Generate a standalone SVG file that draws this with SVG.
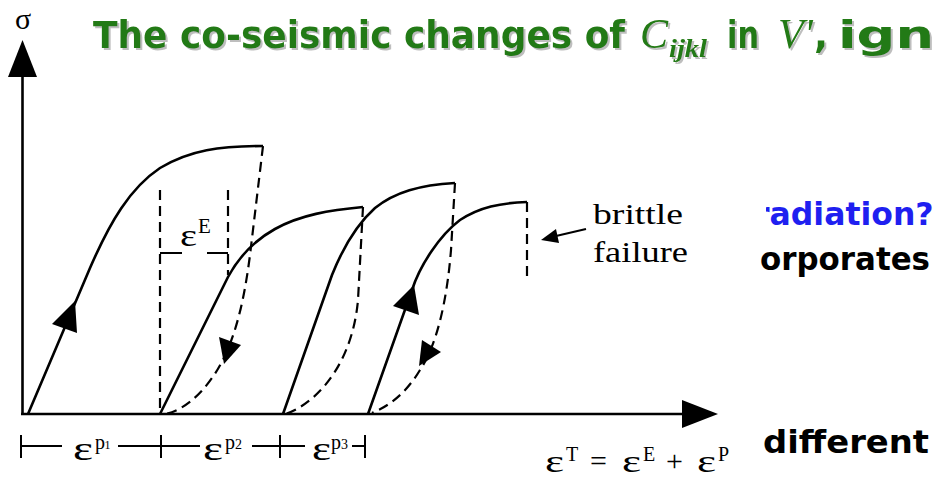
<svg xmlns="http://www.w3.org/2000/svg" width="935" height="482" viewBox="0 0 935 482">
<style>
.ax{stroke:#000;stroke-width:2.6;fill:none}
.sol{stroke:#000;stroke-width:2.6;fill:none;stroke-linejoin:round}
.dsh{stroke:#000;stroke-width:2.2;fill:none;stroke-dasharray:10 6}
.thin{stroke:#000;stroke-width:2;fill:none}
.hd{fill:#000;stroke:none}
.ser{font-family:"Liberation Serif","Times New Roman",serif;fill:#000}
.com{font-family:"Comic Sans MS","DejaVu Sans","Liberation Sans",sans-serif;font-weight:bold}
.ttl{fill:#237a13}
</style>
<defs>
<filter id="sh" x="-5%" y="-20%" width="110%" height="150%">
<feDropShadow dx="2" dy="2" stdDeviation="0.6" flood-color="#888" flood-opacity="0.55"/>
</filter>
<clipPath id="clipR"><rect x="766" y="180" width="169" height="60"/></clipPath>
</defs>
<rect width="935" height="482" fill="#fff"/>

<g id="title" filter="url(#sh)">
<text class="com ttl" x="93" y="48" font-size="37" textLength="532" lengthAdjust="spacingAndGlyphs">The co-seismic changes of</text>
<text class="ttl" x="640" y="48" font-size="42" font-style="italic" font-family="Liberation Serif, serif">C</text>
<text class="ttl" x="669" y="57" font-size="25" font-style="italic" font-weight="bold" font-family="Liberation Serif, serif" textLength="38" lengthAdjust="spacingAndGlyphs">ijkl</text>
<text class="com ttl" x="727" y="48" font-size="37" textLength="32" lengthAdjust="spacingAndGlyphs">in</text>
<text class="ttl" x="778" y="48" font-size="42" font-style="italic" font-family="Liberation Serif, serif">V'</text>
<text class="com ttl" x="814" y="48" font-size="37">,</text>
<text class="com ttl" x="838" y="48" font-size="37" textLength="96" lengthAdjust="spacingAndGlyphs">ign</text>
</g>

<g id="side-text">
<text class="com" x="754" y="225" font-size="31.5" fill="#1f1ff0" clip-path="url(#clipR)">radiation?</text>
<text class="com" x="760" y="270" font-size="32" fill="#000" textLength="170" lengthAdjust="spacingAndGlyphs">orporates</text>
<text class="com" x="763" y="453" font-size="32" fill="#000" textLength="166" lengthAdjust="spacingAndGlyphs">different</text>
</g>

<g id="axes">
<path class="ax" d="M22.5,415 V70"/>
<polygon class="hd" points="22.5,40 8,77 37,77"/>
<text class="ser" x="23" y="29" font-size="30" text-anchor="middle">σ</text>
<path class="ax" d="M21,414 H690"/>
<polygon class="hd" points="718,414 682,400 682,428"/>
</g>

<g id="connectors">
<path class="sol" d="M28,414 L90,268 C110,222 130,188 160,168 C190,150 220,146 263,146"/>
<path class="sol" d="M160,414 L228,277 C240,255 255,240 275,229 C300,215 330,210 363,207"/>
<path class="sol" d="M283,414 L332,275 C342,250 356,225 375,208 C395,192 420,185 455,183"/>
<path class="sol" d="M368,414 L412,290 C420,265 440,235 460,220 C480,207 500,203 527,202"/>
<path class="dsh" d="M263,146 L250,255 C243,310 232,350 212,378 C198,398 182,410 166,414"/>
<path class="dsh" d="M363,207 L358,300 C354,345 335,380 310,400 C300,408 292,412 285,414"/>
<path class="dsh" d="M455,183 L451,250 C447,300 437,345 420,370 C408,390 392,405 372,413"/>
<path class="dsh" d="M527,202 V278"/>
<path class="dsh" d="M160,190 V414"/>
<path class="dsh" d="M228,190 V275"/>
<path class="thin" d="M160,253 H182 M207,253 H228"/>
<polygon class="hd" points="75,301 52,324 77,333"/>
<polygon class="hd" points="219,337 241,345 224,364"/>
<polygon class="hd" points="422,340 441,352 419,366"/>
<polygon class="hd" points="414,285 393,306 419,315"/>
<path class="thin" d="M586,229 L556,236"/>
<polygon class="hd" points="541,240 559,243 556,229"/>
<path class="thin" d="M21,446 H62 M118,446 H200 M252,446 H305 M352,446 H365"/>
<path class="thin" d="M21,435 V458 M161,435 V458 M280,435 V458 M365,435 V458"/>
</g>

<g id="labels">
<text class="ser" x="180" y="246" font-size="32" textLength="17" lengthAdjust="spacingAndGlyphs">ε</text>
<text class="ser" x="198" y="233" font-size="21">E</text>
<text class="ser" x="593" y="224" font-size="29" textLength="90" lengthAdjust="spacingAndGlyphs">brittle</text>
<text class="ser" x="593" y="262" font-size="29" textLength="95" lengthAdjust="spacingAndGlyphs">failure</text>

<text class="ser" x="73" y="460" font-size="34" textLength="20" lengthAdjust="spacingAndGlyphs">ε</text>
<text class="ser" x="95" y="449" font-size="20">p</text>
<text class="ser" x="104.5" y="449" font-size="12">1</text>
<text class="ser" x="203" y="460" font-size="34" textLength="20" lengthAdjust="spacingAndGlyphs">ε</text>
<text class="ser" x="225" y="449" font-size="20">p</text>
<text class="ser" x="235" y="449" font-size="14">2</text>
<text class="ser" x="312" y="460" font-size="34" textLength="19" lengthAdjust="spacingAndGlyphs">ε</text>
<text class="ser" x="331" y="449" font-size="20">p</text>
<text class="ser" x="341" y="449" font-size="14">3</text>

<text class="ser" x="545" y="472" font-size="32" textLength="19" lengthAdjust="spacingAndGlyphs">ε</text>
<text class="ser" x="566" y="461" font-size="20">T</text>
<text class="ser" x="590" y="471" font-size="30">=</text>
<text class="ser" x="622" y="472" font-size="32" textLength="19" lengthAdjust="spacingAndGlyphs">ε</text>
<text class="ser" x="643" y="461" font-size="20">E</text>
<text class="ser" x="666" y="471" font-size="30">+</text>
<text class="ser" x="697" y="472" font-size="32" textLength="19" lengthAdjust="spacingAndGlyphs">ε</text>
<text class="ser" x="718" y="461" font-size="20">P</text>
</g>
</svg>
